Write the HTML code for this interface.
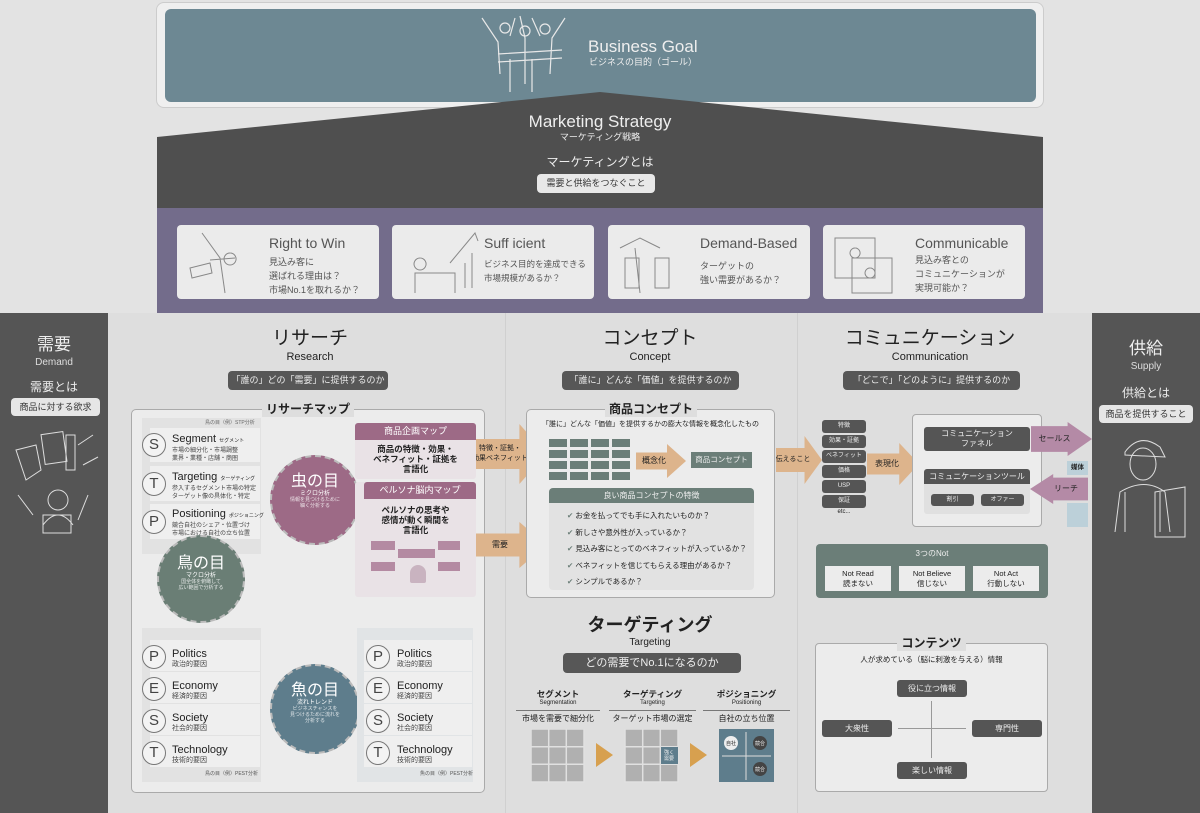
<!DOCTYPE html>
<html><head><meta charset="utf-8"><style>
*{margin:0;padding:0;box-sizing:border-box}
body{width:1200px;height:813px;overflow:hidden;background:#e3e3e3;font-family:"Liberation Sans","Noto Sans CJK JP",sans-serif;color:#222;position:relative;white-space:nowrap;line-height:1.2}
.a{position:absolute}
.c{text-align:center}
.pill{position:absolute;background:#575757;color:#eee;border-radius:4px;text-align:center;font-size:9px;line-height:19px;height:19px}
.db{position:absolute;background:#555;color:#eee;text-align:center;font-size:9px;border-radius:3px}
.card{position:absolute;background:#ebebeb;border-radius:4px;top:225px;height:74px;width:202px}
.card .t{position:absolute;left:92px;top:10px;font-size:14px;color:#555}
.card .s{position:absolute;left:92px;top:30px;font-size:9px;color:#555;line-height:14px}
.row{position:absolute;background:#efefef;height:31px}
.lt{position:absolute;width:24px;height:24px;border:1px solid #777;border-radius:50%;font-size:15px;line-height:22px;text-align:center;color:#444;background:#f3f3f3}
.rt{position:absolute;font-size:11px;color:#222;line-height:11px}
.rt small{display:block;font-size:7px;color:#444;line-height:9px}
.circ{position:absolute;border-radius:50%;color:#fff;text-align:center;border:2px dashed #bbb;line-height:1.15}
.arr{position:absolute;background:#ddb48c;clip-path:polygon(0 25%,62% 25%,62% 0,100% 50%,62% 100%,62% 75%,0 75%);font-size:8px;display:flex;align-items:center;justify-content:center;line-height:10px}
.sep{position:absolute;height:1px;background:#777}
.h1{position:absolute;text-align:center;font-size:19px;line-height:20px}
.h2{position:absolute;text-align:center;font-size:11px;line-height:12px}
</style></head><body>

<!-- top goal -->
<div class="a" style="left:156px;top:2px;width:888px;height:106px;background:#efefef;border:1px solid #ccc;border-radius:8px"></div>
<div class="a" style="left:165px;top:9px;width:871px;height:93px;background:#6d8893;border-radius:6px"></div>
<svg class="a" style="left:470px;top:14px" width="120" height="80" viewBox="0 0 120 80" fill="none" stroke="#e8e8e8" stroke-width="1.2">
<circle cx="35" cy="14" r="5"/><circle cx="55" cy="17" r="5"/><circle cx="75" cy="15" r="5"/>
<path d="M12 4 L28 28 L30 60 M45 4 L40 22 M50 2 L55 24 L55 70 M62 4 L70 22 M95 4 L82 24 L80 60 M28 40 L92 36 M28 48 L92 44 M40 45 L40 78 M62 45 L62 78"/>
</svg>
<div class="a" style="left:588px;top:37px;font-size:17px;color:#eee">Business Goal</div>
<div class="a" style="left:589px;top:57px;font-size:9px;color:#eee">ビジネスの目的（ゴール）</div>

<!-- roof -->
<svg class="a" style="left:0;top:0" width="1200" height="210"><polygon points="157,137 600,92 1043,137 1043,208 157,208" fill="#4f4f4f"/></svg>
<div class="a c" style="left:450px;top:112px;width:300px;font-size:17px;color:#eee">Marketing Strategy</div>
<div class="a c" style="left:450px;top:132px;width:300px;font-size:9px;color:#eee">マーケティング戦略</div>
<div class="a c" style="left:450px;top:155px;width:300px;font-size:12px;color:#eee">マーケティングとは</div>
<div class="a c" style="left:537px;top:174px;width:118px;height:19px;background:#e8e8e8;border-radius:4px;font-size:9px;line-height:19px;color:#333">需要と供給をつなぐこと</div>

<!-- purple -->
<div class="a" style="left:157px;top:208px;width:886px;height:105px;background:#736c8b"></div>
<div class="card" style="left:177px"><div class="t">Right to Win</div><div class="s">見込み客に<br>選ばれる理由は？<br>市場No.1を取れるか？</div></div>
<div class="card" style="left:392px"><div class="t">Suff icient</div><div class="s" style="top:32px;font-size:8.5px">ビジネス目的を達成できる<br>市場規模があるか？</div></div>
<div class="card" style="left:608px"><div class="t">Demand-Based</div><div class="s" style="top:34px">ターゲットの<br>強い需要があるか？</div></div>
<div class="card" style="left:823px"><div class="t">Communicable</div><div class="s" style="top:28px">見込み客との<br>コミュニケーションが<br>実現可能か？</div></div>
<svg class="a" style="left:180px;top:228px" width="850" height="70" fill="none" stroke="#888" stroke-width="1">
<path d="M22 5 L40 30 L45 65 M30 32 L55 30 M50 25 a6 6 0 1 0 0.1 0 M10 40 l20 -5 l2 10 l-20 5z"/>
<path d="M235 65 l0 -20 l40 0 l0 20 M285 60 l0 -25 M292 60 l0 -35 M270 35 l25 -30 l3 8 M240 30 a6 6 0 1 0 0.1 0"/>
<path d="M440 20 l20 -10 l20 10 M445 30 l0 30 l14 0 l0 -30z M475 30 l0 30 l14 0 l0 -30z M455 20 l5 45"/>
<path d="M655 10 l40 0 l0 40 l-40 0z M672 30 l40 0 l0 35 l-40 0z M675 20 a5 5 0 1 0 0.1 0 M690 40 a5 5 0 1 0 0.1 0"/>
</svg>

<!-- lower area -->
<div class="a" style="left:108px;top:313px;width:984px;height:500px;background:#dedede"></div>
<div class="a" style="left:505px;top:313px;width:1px;height:500px;background:#d0d0d0"></div>
<div class="a" style="left:797px;top:313px;width:1px;height:500px;background:#d0d0d0"></div>
<div class="a" style="left:0;top:313px;width:108px;height:500px;background:#555"></div>
<div class="a" style="left:1092px;top:313px;width:108px;height:500px;background:#555"></div>

<!-- demand -->
<div class="a c" style="left:0;top:336px;width:108px;font-size:17px;line-height:18px;color:#eee">需要</div>
<div class="a c" style="left:0;top:357px;width:108px;font-size:10px;color:#ddd">Demand</div>
<div class="a c" style="left:0;top:380px;width:108px;font-size:12px;color:#eee">需要とは</div>
<div class="a c" style="left:11px;top:398px;width:89px;height:18px;background:#e6e6e6;border-radius:4px;font-size:9px;line-height:18px;color:#333">商品に対する欲求</div>
<svg class="a" style="left:8px;top:425px" width="95" height="115" fill="none" stroke="#ddd" stroke-width="1">
<rect x="35" y="8" width="22" height="30" transform="rotate(-8 46 23)"/><rect x="58" y="10" width="9" height="35"/><path d="M8 25 l20 -5 l5 25 l-15 10z M70 20 l15 -10 M75 40 l15 -8 M10 70 l15 20 M80 70 l-10 25"/>
<circle cx="50" cy="75" r="10"/><path d="M35 100 q15 -20 30 0"/><rect x="35" y="90" width="28" height="18"/>
</svg>
<!-- supply -->
<div class="a c" style="left:1092px;top:340px;width:108px;font-size:17px;line-height:18px;color:#eee">供給</div>
<div class="a c" style="left:1092px;top:361px;width:108px;font-size:10px;color:#ddd">Supply</div>
<div class="a c" style="left:1092px;top:386px;width:108px;font-size:12px;color:#eee">供給とは</div>
<div class="a c" style="left:1099px;top:405px;width:94px;height:18px;background:#e6e6e6;border-radius:4px;font-size:9px;line-height:18px;color:#333">商品を提供すること</div>
<svg class="a" style="left:1100px;top:432px" width="95" height="110" fill="none" stroke="#ddd" stroke-width="1">
<path d="M25 20 q15 -20 35 -5 l5 10 l-40 -2z"/><ellipse cx="43" cy="32" rx="13" ry="16"/><path d="M15 100 l5 -40 q25 -15 45 0 l5 40 M25 60 l0 40 M60 60 l0 40 M55 60 l30 -5 l0 50 l-30 0z"/>
</svg>

<!-- column heads -->
<div class="h1" style="left:210px;top:329px;width:200px">リサーチ</div>
<div class="h2" style="left:210px;top:351px;width:200px">Research</div>
<div class="pill" style="left:228px;top:371px;width:160px">「誰の」どの「需要」に提供するのか</div>
<div class="h1" style="left:550px;top:329px;width:200px">コンセプト</div>
<div class="h2" style="left:550px;top:351px;width:200px">Concept</div>
<div class="pill" style="left:562px;top:371px;width:177px">「誰に」どんな「価値」を提供するのか</div>
<div class="h1" style="left:830px;top:329px;width:200px">コミュニケーション</div>
<div class="h2" style="left:830px;top:351px;width:200px">Communication</div>
<div class="pill" style="left:843px;top:371px;width:177px">「どこで」「どのように」提供するのか</div>

<!-- research map -->
<div class="a" style="left:131px;top:409px;width:354px;height:384px;background:#ececec;border:1px solid #aaa;border-radius:5px"></div>
<div class="a c" style="left:262px;top:401px;width:92px;height:16px;background:#dedede;font-size:12px;line-height:16px;font-weight:bold">リサーチマップ</div>
<!-- STP -->
<div class="a" style="left:142px;top:418px;width:119px;height:136px;background:#e2e2e2"></div>
<div class="a" style="left:205px;top:420px;font-size:5px;color:#666">鳥の目（例）STP分析</div>
<div class="row" style="left:150px;top:428px;width:110px;height:34px"></div>
<div class="row" style="left:150px;top:466px;width:110px;height:35px"></div>
<div class="row" style="left:150px;top:504px;width:110px;height:35px"></div>
<div class="lt" style="left:142px;top:433px">S</div><div class="rt" style="left:172px;top:434px">Segment <span style="font-size:5px">セグメント</span><small style="font-size:6px;line-height:8px">市場の細分化・市場調整<br>業界・業種・店舗・商圏</small></div>
<div class="lt" style="left:142px;top:472px">T</div><div class="rt" style="left:172px;top:472px">Targeting <span style="font-size:5px">ターゲティング</span><small style="font-size:6px;line-height:8px">参入するセグメント市場の特定<br>ターゲット像の具体化・特定</small></div>
<div class="lt" style="left:142px;top:510px">P</div><div class="rt" style="left:172px;top:509px">Positioning <span style="font-size:5px">ポジショニング</span><small style="font-size:6px;line-height:8px">競合自社のシェア・位置づけ<br>市場における自社の立ち位置</small></div>
<!-- circles -->
<div class="circ" style="left:270px;top:455px;width:90px;height:90px;background:#9d6a86"><div style="font-size:16px;margin-top:16px">虫の目</div><div style="font-size:6px">ミクロ分析</div><div style="font-size:5px;opacity:.8">情報を見つけるために<br>細く分析する</div></div>
<div class="circ" style="left:157px;top:535px;width:88px;height:88px;background:#6a7e75"><div style="font-size:16px;margin-top:18px">鳥の目</div><div style="font-size:6px">マクロ分析</div><div style="font-size:5px;opacity:.8">国全体を俯瞰して<br>広い範囲で分析する</div></div>
<div class="circ" style="left:270px;top:664px;width:90px;height:90px;background:#5e7d8c"><div style="font-size:16px;margin-top:16px">魚の目</div><div style="font-size:6px">流れトレンド</div><div style="font-size:5px;opacity:.8">ビジネスチャンスを<br>見つけるために流れを<br>分析する</div></div>
<!-- product map -->
<div class="a" style="left:355px;top:423px;width:121px;height:56px;background:#e9e2e6;border-radius:3px"></div>
<div class="a c" style="left:355px;top:423px;width:121px;height:17px;background:#9d6a86;color:#fff;font-size:9px;line-height:17px;border-radius:3px 3px 0 0">商品企画マップ</div>
<div class="a c" style="left:355px;top:444px;width:121px;font-size:8.5px;line-height:10px;font-weight:bold">商品の特徴・効果・<br>ベネフィット・証拠を<br>言語化</div>
<div class="a" style="left:355px;top:482px;width:121px;height:115px;background:#e9e2e6;border-radius:3px"></div>
<div class="a c" style="left:364px;top:482px;width:112px;height:17px;background:#9d6a86;color:#fff;font-size:9px;line-height:17px;border-radius:3px 3px 0 0">ペルソナ脳内マップ</div>
<div class="a c" style="left:355px;top:505px;width:121px;font-size:8.5px;line-height:10px;font-weight:bold">ペルソナの思考や<br>感情が動く瞬間を<br>言語化</div>
<div class="a" style="left:371px;top:541px;width:24px;height:9px;background:#b48aa2"></div>
<div class="a" style="left:438px;top:541px;width:22px;height:9px;background:#b48aa2"></div>
<div class="a" style="left:398px;top:549px;width:37px;height:9px;background:#b48aa2"></div>
<div class="a" style="left:371px;top:562px;width:24px;height:9px;background:#b48aa2"></div>
<div class="a" style="left:438px;top:562px;width:22px;height:9px;background:#b48aa2"></div>
<div class="a" style="left:410px;top:565px;width:16px;height:18px;background:#c9b3c0;border-radius:8px 8px 2px 2px"></div>
<!-- PEST left -->
<div class="a" style="left:142px;top:628px;width:119px;height:154px;background:#e2e2e2"></div>
<div class="row" style="left:150px;top:640px;width:110px"></div><div class="row" style="left:150px;top:672px;width:110px"></div><div class="row" style="left:150px;top:704px;width:110px"></div><div class="row" style="left:150px;top:736px;width:110px"></div>
<div class="lt" style="left:142px;top:645px">P</div><div class="rt" style="left:172px;top:649px">Politics<small>政治的要因</small></div>
<div class="lt" style="left:142px;top:677px">E</div><div class="rt" style="left:172px;top:681px">Economy<small>経済的要因</small></div>
<div class="lt" style="left:142px;top:709px">S</div><div class="rt" style="left:172px;top:713px">Society<small>社会的要因</small></div>
<div class="lt" style="left:142px;top:741px">T</div><div class="rt" style="left:172px;top:745px">Technology<small>技術的要因</small></div>
<div class="a" style="left:205px;top:771px;font-size:5px;color:#555">鳥の目（例）PEST分析</div>
<!-- PEST right -->
<div class="a" style="left:357px;top:628px;width:116px;height:154px;background:#e1e4e6"></div>
<div class="row" style="left:364px;top:640px;width:108px"></div><div class="row" style="left:364px;top:672px;width:108px"></div><div class="row" style="left:364px;top:704px;width:108px"></div><div class="row" style="left:364px;top:736px;width:108px"></div>
<div class="lt" style="left:366px;top:645px">P</div><div class="rt" style="left:397px;top:649px">Politics<small>政治的要因</small></div>
<div class="lt" style="left:366px;top:677px">E</div><div class="rt" style="left:397px;top:681px">Economy<small>経済的要因</small></div>
<div class="lt" style="left:366px;top:709px">S</div><div class="rt" style="left:397px;top:713px">Society<small>社会的要因</small></div>
<div class="lt" style="left:366px;top:741px">T</div><div class="rt" style="left:397px;top:745px">Technology<small>技術的要因</small></div>
<div class="a" style="left:420px;top:771px;font-size:5px;color:#555">魚の目（例）PEST分析</div>

<!-- arrows research->concept -->
<div class="arr" style="left:476px;top:424px;width:70px;height:60px;padding-right:22px;font-size:7px;text-align:center">特徴・証拠・<br>効果ベネフィット</div>
<div class="arr" style="left:476px;top:522px;width:70px;height:46px;padding-right:22px">需要</div>

<!-- concept box -->
<div class="a" style="left:526px;top:409px;width:249px;height:189px;background:#ececec;border:1px solid #aaa;border-radius:5px"></div>
<div class="a c" style="left:605px;top:401px;width:92px;height:16px;line-height:16px;background:#dedede;font-size:12px;font-weight:bold">商品コンセプト</div>
<div class="a c" style="left:526px;top:421px;width:249px;font-size:7px">「誰に」どんな「価値」を提供するかの膨大な情報を概念化したもの</div>
<svg class="a" style="left:549px;top:439px" width="82" height="41"><g fill="#6b7e78">
<rect x="0" y="0" width="18" height="8"/><rect x="21" y="0" width="18" height="8"/><rect x="42" y="0" width="18" height="8"/><rect x="63" y="0" width="18" height="8"/>
<rect x="0" y="11" width="18" height="8"/><rect x="21" y="11" width="18" height="8"/><rect x="42" y="11" width="18" height="8"/><rect x="63" y="11" width="18" height="8"/>
<rect x="0" y="22" width="18" height="8"/><rect x="21" y="22" width="18" height="8"/><rect x="42" y="22" width="18" height="8"/><rect x="63" y="22" width="18" height="8"/>
<rect x="0" y="33" width="18" height="8"/><rect x="21" y="33" width="18" height="8"/><rect x="42" y="33" width="18" height="8"/><rect x="63" y="33" width="18" height="8"/></g></svg>
<div class="arr" style="left:636px;top:444px;width:50px;height:34px;padding-right:14px">概念化</div>
<div class="a c" style="left:691px;top:452px;width:61px;height:16px;background:#6b7e78;color:#eee;font-size:7.5px;line-height:16px">商品コンセプト</div>
<div class="a" style="left:549px;top:488px;width:205px;height:102px;background:#e2e2e2;border-radius:4px"></div>
<div class="a c" style="left:549px;top:488px;width:205px;height:15px;background:#6b7e78;color:#eee;font-size:8px;line-height:15px;border-radius:4px 4px 0 0">良い商品コンセプトの特徴</div>
<div class="a" style="left:567px;top:508px;font-size:7.5px;line-height:16.5px"><span style="color:#6b7e78">✔</span> お金を払ってでも手に入れたいものか？<br><span style="color:#6b7e78">✔</span> 新しさや意外性が入っているか？<br><span style="color:#6b7e78">✔</span> 見込み客にとってのベネフィットが入っているか？<br><span style="color:#6b7e78">✔</span> ベネフィットを信じてもらえる理由があるか？<br><span style="color:#6b7e78">✔</span> シンプルであるか？</div>

<!-- targeting -->
<div class="a c" style="left:550px;top:615px;width:200px;font-size:18px;line-height:20px;font-weight:bold">ターゲティング</div>
<div class="a c" style="left:550px;top:637px;width:200px;font-size:10px;line-height:12px">Targeting</div>
<div class="pill" style="left:563px;top:653px;width:178px;height:20px;font-size:11px;line-height:20px">どの需要でNo.1になるのか</div>
<div class="a c" style="left:517px;top:689px;width:82px;font-size:8.5px;font-weight:bold">セグメント</div>
<div class="a c" style="left:517px;top:700px;width:82px;font-size:6px">Segmentation</div>
<div class="sep" style="left:516px;top:710px;width:84px"></div>
<div class="a c" style="left:517px;top:714px;width:82px;font-size:8px">市場を需要で細分化</div>
<div class="a c" style="left:610px;top:689px;width:85px;font-size:8.5px;font-weight:bold">ターゲティング</div>
<div class="a c" style="left:610px;top:700px;width:85px;font-size:6px">Targeting</div>
<div class="sep" style="left:609px;top:710px;width:87px"></div>
<div class="a c" style="left:610px;top:714px;width:85px;font-size:8px">ターゲット市場の選定</div>
<div class="a c" style="left:704px;top:689px;width:85px;font-size:8.5px;font-weight:bold">ポジショニング</div>
<div class="a c" style="left:704px;top:700px;width:85px;font-size:6px">Positioning</div>
<div class="sep" style="left:703px;top:710px;width:87px"></div>
<div class="a c" style="left:704px;top:714px;width:85px;font-size:8px">自社の立ち位置</div>
<svg class="a" style="left:531px;top:729px" width="260" height="54">
<g fill="#b0b0b0" stroke="#e0e0e0" stroke-width="1.5"><rect x="0" y="0" width="53" height="53"/><rect x="94" y="0" width="53" height="53"/></g>
<g stroke="#e0e0e0" stroke-width="1.5"><path d="M17.7 0v53M35.3 0v53M0 17.7h53M0 35.3h53M111.7 0v53M129.3 0v53M94 17.7h53M94 35.3h53"/></g>
<rect x="130" y="18" width="17" height="17" fill="#5e7d8c"/>
<polygon points="65,14 82,26 65,38" fill="#d7a04f"/><polygon points="159,14 176,26 159,38" fill="#d7a04f"/>
<rect x="188" y="0" width="55" height="53" fill="#5e7d8c"/>
<path d="M215 3v48M191 27h49" stroke="#ddd"/>
<circle cx="200" cy="14" r="7" fill="#eee"/><circle cx="229" cy="14" r="7" fill="#444"/><circle cx="229" cy="40" r="7" fill="#444"/>
<text x="200" y="16" font-size="5" text-anchor="middle" fill="#222">自社</text><text x="229" y="16" font-size="5" text-anchor="middle" fill="#eee">競合</text><text x="229" y="42" font-size="5" text-anchor="middle" fill="#eee">競合</text>
<text x="138" y="25" font-size="5" text-anchor="middle" fill="#eee">強く</text><text x="138" y="31" font-size="5" text-anchor="middle" fill="#eee">需要</text>
</svg>

<!-- communication -->
<div class="arr" style="left:776px;top:436px;width:46px;height:48px;padding-right:12px;font-size:7px">伝えること</div>
<div class="db" style="left:822px;top:420px;width:44px;height:13px;line-height:13px;font-size:6px">特徴</div>
<div class="db" style="left:822px;top:435px;width:44px;height:13px;line-height:13px;font-size:6px">効果・証拠</div>
<div class="db" style="left:822px;top:450px;width:44px;height:13px;line-height:13px;font-size:6px">ベネフィット</div>
<div class="db" style="left:822px;top:465px;width:44px;height:13px;line-height:13px;font-size:6px">価格</div>
<div class="db" style="left:822px;top:480px;width:44px;height:13px;line-height:13px;font-size:6px">USP</div>
<div class="db" style="left:822px;top:495px;width:44px;height:13px;line-height:13px;font-size:6px">保証</div>
<div class="a c" style="left:822px;top:509px;width:44px;font-size:6px">etc...</div>
<div class="arr" style="left:867px;top:443px;width:52px;height:42px;padding-right:12px">表現化</div>
<div class="a" style="left:912px;top:414px;width:130px;height:113px;background:#ececec;border:1px solid #aaa;border-radius:4px"></div>
<div class="db" style="left:924px;top:427px;width:106px;height:24px;font-size:8px;line-height:10px;padding-top:2px">コミュニケーション<br>ファネル</div>
<div class="a" style="left:924px;top:469px;width:106px;height:45px;background:#e0e0e0;border-radius:3px"></div>
<div class="db" style="left:924px;top:469px;width:106px;height:15px;font-size:8px;line-height:15px;border-radius:3px 3px 0 0">コミュニケーションツール</div>
<div class="db" style="left:931px;top:494px;width:43px;height:12px;font-size:6px;line-height:12px">割引</div>
<div class="db" style="left:981px;top:494px;width:43px;height:12px;font-size:6px;line-height:12px">オファー</div>
<div class="arr" style="left:1031px;top:422px;width:61px;height:34px;background:#b48aa6;padding-right:14px;clip-path:polygon(0 12%,60% 12%,60% 0,100% 50%,60% 100%,60% 88%,0 88%)">セールス</div>
<div class="a c" style="left:1067px;top:461px;width:21px;height:14px;background:#bcd0d9;font-size:6.5px;line-height:14px;font-weight:bold">媒体</div>
<div class="arr" style="left:1030px;top:474px;width:58px;height:30px;background:#b48aa6;padding-left:14px;clip-path:polygon(100% 12%,40% 12%,40% 0,0 50%,40% 100%,40% 88%,100% 88%)">リーチ</div>
<div class="a" style="left:1067px;top:503px;width:21px;height:24px;background:#bcd0d9"></div>

<!-- 3 nots -->
<div class="a" style="left:816px;top:544px;width:232px;height:54px;background:#6b7e78;border-radius:4px"></div>
<div class="a c" style="left:816px;top:549px;width:232px;font-size:8px;color:#eee">3つのNot</div>
<div class="a c" style="left:825px;top:566px;width:66px;height:25px;background:#ececec;font-size:7.5px;line-height:10px;padding-top:3px">Not Read<br>読まない</div>
<div class="a c" style="left:899px;top:566px;width:66px;height:25px;background:#ececec;font-size:7.5px;line-height:10px;padding-top:3px">Not Believe<br>信じない</div>
<div class="a c" style="left:973px;top:566px;width:66px;height:25px;background:#ececec;font-size:7.5px;line-height:10px;padding-top:3px">Not Act<br>行動しない</div>

<!-- contents -->
<div class="a" style="left:815px;top:643px;width:233px;height:149px;background:#ececec;border:1px solid #aaa;border-radius:4px"></div>
<div class="a c" style="left:897px;top:635px;width:69px;height:16px;line-height:16px;background:#dedede;font-size:12px;font-weight:bold">コンテンツ</div>
<div class="a c" style="left:815px;top:655px;width:233px;font-size:7.5px">人が求めている（脳に刺激を与える）情報</div>
<div class="db" style="left:897px;top:680px;width:70px;height:17px;line-height:17px;font-size:8px">役に立つ情報</div>
<div class="db" style="left:822px;top:720px;width:70px;height:17px;line-height:17px;font-size:8px">大衆性</div>
<div class="db" style="left:972px;top:720px;width:70px;height:17px;line-height:17px;font-size:8px">専門性</div>
<div class="db" style="left:897px;top:762px;width:70px;height:17px;line-height:17px;font-size:8px">楽しい情報</div>
<div class="a" style="left:931px;top:701px;width:1px;height:57px;background:#999"></div>
<div class="a" style="left:898px;top:728px;width:68px;height:1px;background:#999"></div>
</body></html>
